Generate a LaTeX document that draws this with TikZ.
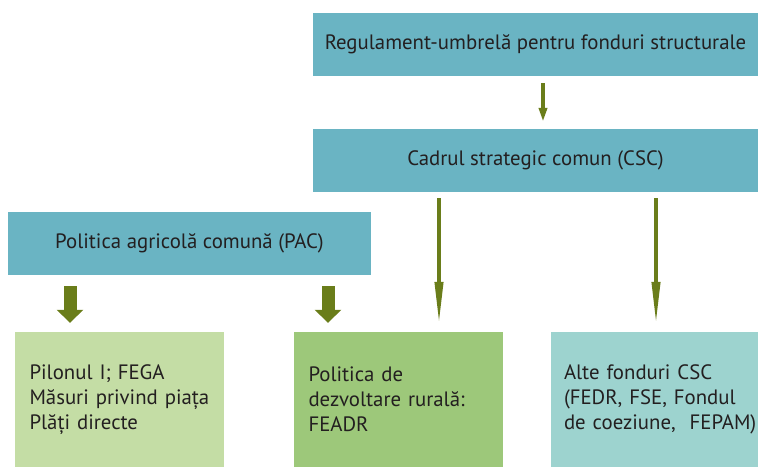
\documentclass[tikz,border=0pt]{standalone}
\usepackage{fontspec}
\setmainfont{PT Sans}
\usetikzlibrary{arrows.meta}
\definecolor{cadru}{HTML}{6AB4C3}
\definecolor{pilon}{HTML}{C4DDA5}
\definecolor{rural}{HTML}{9DC87A}
\definecolor{alte}{HTML}{9DD3CF}
\definecolor{sageata}{HTML}{6A7D1A}
\definecolor{textc}{HTML}{231F20}
\begin{document}
\begin{tikzpicture}[x=1pt, y=-1pt,
  font=\fontsize{20.8}{25}\selectfont, text=textc,
  banda/.style={fill=cadru, minimum height=63pt, inner sep=0pt},
  caseta/.style={minimum height=135pt, inner sep=0pt, align=left},
  subtire/.style={sageata, line width=4pt, -{Triangle[length=#1, width=8pt]}},
  groasa/.style={sageata, line width=13pt, -{Triangle[length=13pt, width=26pt]}}]
  \useasboundingbox (0,0) rectangle (758,468);

  % Regulament si cadrul strategic
  \node[banda, minimum width=445pt] (reg) at (535.5,44.5) {Regulament-umbrelă pentru fonduri structurale};
  \node[banda, minimum width=445pt] (csc) at (535.5,160.5) {Cadrul strategic comun (CSC)};

  % Politica agricola comuna
  \node[banda, minimum width=363pt] (pac) at (189.5,243.5) {Politica agricolă comună (PAC)};

  % Casetele de jos
  \node[caseta, fill=pilon, minimum width=209pt, text width=180pt] (pil) at (119.5,399.5)
    {Pilonul I; FEGA\\Măsuri privind piața\\Plăți directe};
  \node[caseta, fill=rural, minimum width=209pt, text width=180pt] (dr) at (398.5,399.5)
    {Politica de\\dezvoltare rurală:\\FEADR};
  \node[caseta, fill=alte, minimum width=207pt, text width=181pt] (af) at (654.5,399.5)
    {Alte fonduri CSC\\(FEDR, FSE, Fondul\\\mbox{de coeziune,\ \ FEPAM)}};

  % Sageti
  \coordinate (x1) at (543,0);
  \coordinate (x2) at (70,0);
  \coordinate (x3) at (328,0);
  \coordinate (x4) at (439,0);
  \coordinate (x5) at (656,0);
  \draw[subtire=14pt, shorten <=7pt, shorten >=7pt] (x1 |- reg.south) -- (x1 |- csc.north);
  \draw[groasa, shorten <=11pt, shorten >=9pt] (x2 |- pac.south) -- (x2 |- pil.north);
  \draw[groasa, shorten <=11pt, shorten >=9pt] (x3 |- pac.south) -- (x3 |- dr.north);
  \draw[subtire=44pt, shorten <=6pt, shorten >=6pt] (x4 |- csc.south) -- (x4 |- dr.north);
  \draw[subtire=44pt, shorten <=6pt, shorten >=6pt] (x5 |- csc.south) -- (x5 |- af.north);
\end{tikzpicture}
\end{document}
